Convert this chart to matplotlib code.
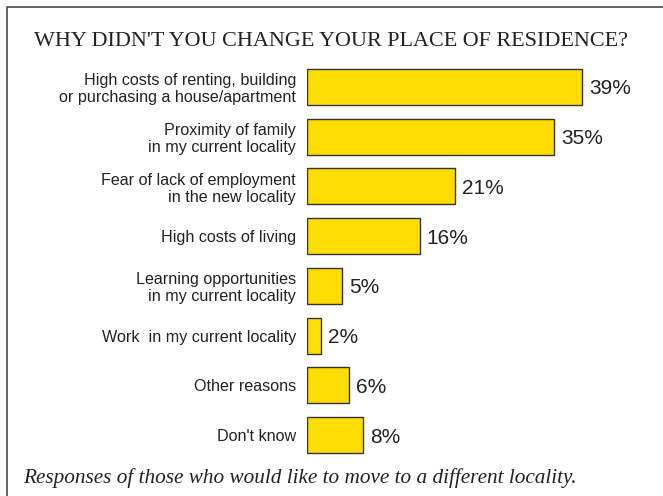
import numpy as np
import matplotlib
matplotlib.use("Agg")
import matplotlib.pyplot as plt
from matplotlib.lines import Line2D

# survey answers, top to bottom
reasons = [
    "High costs of renting, building\nor purchasing a house/apartment",
    "Proximity of family\nin my current locality",
    "Fear of lack of employment\nin the new locality",
    "High costs of living",
    "Learning opportunities\nin my current locality",
    "Work  in my current locality",
    "Other reasons",
    "Don't know",
]
shares = [39, 35, 21, 16, 5, 2, 6, 8]

W, H = 663, 496
fig = plt.figure(figsize=(W / 100, H / 100), dpi=100)

# bars area in pixel terms
left, right = 307, 660
top, bottom = 62, 460
ax = fig.add_axes([left / W, 1 - bottom / H, (right - left) / W, (bottom - top) / H])

ypos = np.arange(len(reasons))
ax.barh(ypos, shares, height=0.72, color="#FFDD00", edgecolor="#333333", linewidth=1.0)
for y, v in zip(ypos, shares):
    ax.text(v + 1.0, y + 0.04, f"{v}%", va="center", ha="left", fontsize=15,
            family="Liberation Sans", color="#222222")

ax.set_xlim(0, (right - left) / 7.05)
ax.set_ylim(len(reasons) - 0.5, -0.5)
ax.set_yticks(ypos)
ax.set_yticklabels(reasons, fontsize=11.6, family="Liberation Sans", color="#222222",
                   linespacing=1.15)
ax.tick_params(axis="y", length=0, pad=8)
ax.set_xticks([])
for s in ax.spines.values():
    s.set_visible(False)

fig.text(331 / W, 1 - 42 / H, "WHY DIDN'T YOU CHANGE YOUR PLACE OF RESIDENCE?",
         ha="center", va="center", fontsize=15.9, family="Liberation Serif", color="#222222")
fig.text(23 / W, 1 - 478 / H, "Responses of those who would like to move to a different locality.",
         ha="left", va="center", fontsize=15.3, family="Liberation Serif", style="italic",
         color="#222222")

# frame, open at right and bottom
fig.add_artist(Line2D([7 / W, 7 / W, 1], [0, 1 - 7 / H, 1 - 7 / H],
                      transform=fig.transFigure, color="#555555", linewidth=1.3))

fig.savefig("out.png", dpi=100)
